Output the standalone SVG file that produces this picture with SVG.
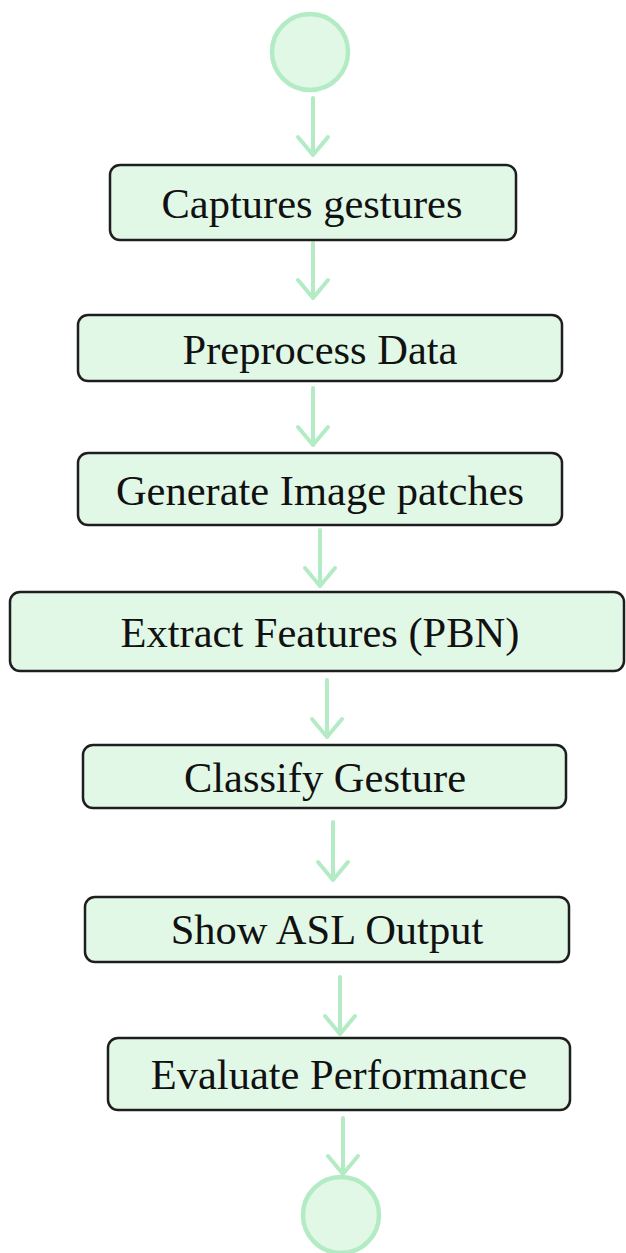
<svg xmlns="http://www.w3.org/2000/svg" width="626" height="1253" viewBox="0 0 626 1253">
<style>
.node rect{fill:#e1f8e7;stroke:#1e1e1e;stroke-width:2.5}
.term circle{fill:#e1f8e7;stroke:#b3ecc4;stroke-width:4.5}
.node text{font-family:"Liberation Serif","Times New Roman",serif;font-size:42.5px;fill:#111;text-anchor:middle;dominant-baseline:central}
#connectors path{fill:none;stroke:#b3ecc4;stroke-width:4;stroke-linecap:round;stroke-linejoin:round}
</style>
<rect width="626" height="1253" fill="#fff"/>
<g id="connectors">
<path d="M313 98V155M298 137L313 155L328 137"/>
<path d="M313 243V298M298 280L313 298L328 280"/>
<path d="M313 388V445M298 427L313 445L328 427"/>
<path d="M320 530V586M305 568L320 586L335 568"/>
<path d="M327 680V737M312 719L327 737L342 719"/>
<path d="M333 822V880M318 862L333 880L348 862"/>
<path d="M340 977V1034M325 1016L340 1034L355 1016"/>
<path d="M343 1118V1174M328 1156L343 1174L358 1156"/>
</g>
<g id="start" class="term"><circle cx="310" cy="52" r="38"/></g>
<g id="n1" class="node"><rect x="110" y="165" width="406" height="75" rx="10"/><text x="312" y="203">Captures gestures</text></g>
<g id="n2" class="node"><rect x="78" y="315" width="484" height="66" rx="10"/><text x="320" y="349">Preprocess Data</text></g>
<g id="n3" class="node"><rect x="78" y="453" width="484" height="72" rx="10"/><text x="320" y="490">Generate Image patches</text></g>
<g id="n4" class="node"><rect x="10" y="592" width="614" height="79" rx="10"/><text x="320" y="632">Extract Features (PBN)</text></g>
<g id="n5" class="node"><rect x="83" y="745" width="483" height="63" rx="10"/><text x="325" y="777">Classify Gesture</text></g>
<g id="n6" class="node"><rect x="85" y="897" width="484" height="65" rx="10"/><text x="327" y="929">Show ASL Output</text></g>
<g id="n7" class="node"><rect x="108" y="1038" width="462" height="72" rx="10"/><text x="339" y="1074">Evaluate Performance</text></g>
<g id="end" class="term"><circle cx="341" cy="1215" r="38"/></g>
</svg>
